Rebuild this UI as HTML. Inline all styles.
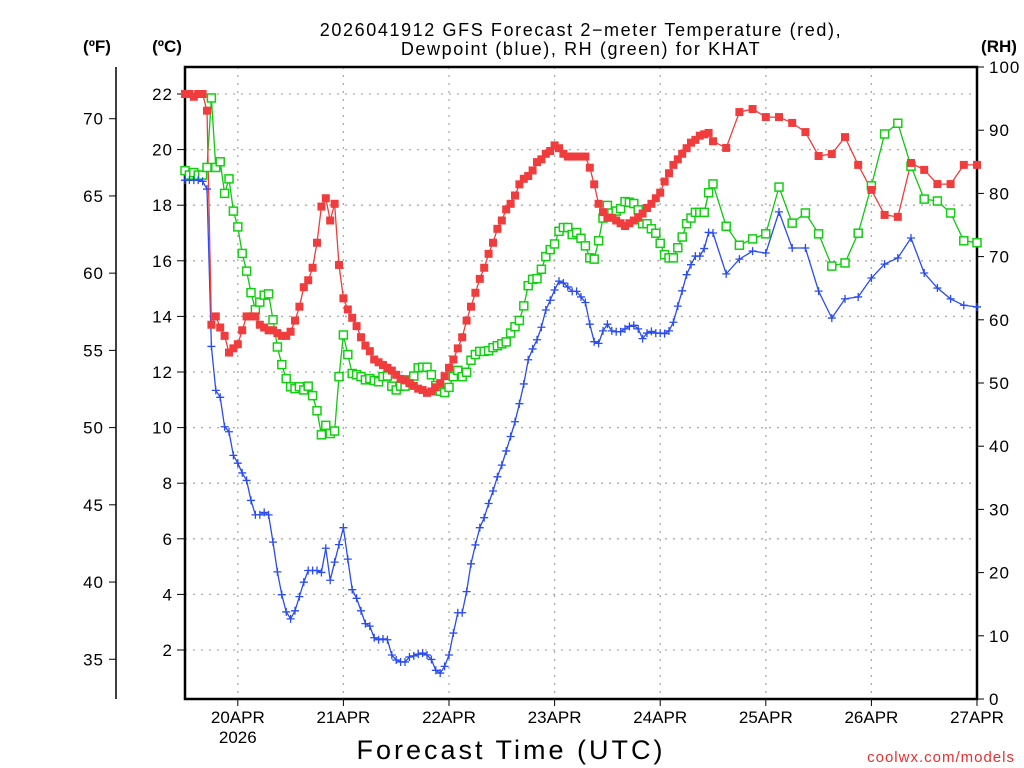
<!DOCTYPE html>
<html><head><meta charset="utf-8"><style>
html,body{margin:0;padding:0;background:#fff;}
svg{display:block;font-family:"Liberation Sans","DejaVu Sans",sans-serif;}
</style></head><body>
<svg id="chart" width="1024" height="768" viewBox="0 0 1024 768" xmlns="http://www.w3.org/2000/svg">
<rect width="1024" height="768" fill="#fff"/>
<text x="581" y="36" font-size="18" text-anchor="middle" fill="#000" letter-spacing="1.6">2026041912 GFS Forecast 2−meter Temperature (red),</text>
<text x="581" y="55" font-size="18" text-anchor="middle" fill="#000" letter-spacing="1.6">Dewpoint (blue), RH (green) for KHAT</text>
<text x="97" y="52" font-size="17" font-weight="bold" text-anchor="middle">(ºF)</text>
<text x="167" y="52" font-size="17" font-weight="bold" text-anchor="middle">(ºC)</text>
<text x="999" y="52" font-size="17" font-weight="bold" text-anchor="middle">(RH)</text>
<g id="grid"></g>
<g id="axes"></g>
<g id="series"></g>
<text x="511" y="759" font-size="27" text-anchor="middle" letter-spacing="3">Forecast Time (UTC)</text>
<text x="1015" y="762" font-size="15" text-anchor="end" fill="#e83030" letter-spacing="1">coolwx.com/models</text>
</svg>
<script>
const hours=[0,1,2,3,4,5,6,7,8,9,10,11,12,13,14,15,16,17,18,19,20,21,22,23,24,25,26,27,28,29,30,31,32,33,34,35,36,37,38,39,40,41,42,43,44,45,46,47,48,49,50,51,52,53,54,55,56,57,58,59,60,61,62,63,64,65,66,67,68,69,70,71,72,73,74,75,76,77,78,79,80,81,82,83,84,85,86,87,88,89,90,91,92,93,94,95,96,97,98,99,100,101,102,103,104,105,106,107,108,109,110,111,112,113,114,115,116,117,118,119,120,123,126,129,132,135,138,141,144,147,150,153,156,159,162,165,168,171,174,177,180];
const tempC=[22.0,22.0,21.9,22.0,22.0,21.4,13.7,14.0,13.6,13.3,
12.7,12.85,13.0,13.5,14.0,14.0,14.0,13.7,13.6,13.5,
13.5,13.4,13.3,13.3,13.45,13.85,14.35,15.05,15.3,15.75,
16.65,17.95,18.25,17.45,18.05,15.85,14.65,14.25,13.95,13.65,
13.25,12.95,12.75,12.45,12.35,12.25,12.15,12.05,11.9,11.75,
11.7,11.6,11.5,11.4,11.35,11.25,11.3,11.45,11.6,11.85,
12.15,12.45,12.85,13.25,13.85,14.35,14.85,15.35,15.75,16.25,
16.65,17.15,17.45,17.85,18.05,18.35,18.75,18.95,19.05,19.25,
19.55,19.65,19.85,19.95,20.15,20.05,19.85,19.75,19.75,19.75,
19.75,19.75,19.35,18.75,18.05,17.75,17.55,17.55,17.45,17.35,
17.25,17.35,17.45,17.55,17.7,17.9,18.05,18.25,18.45,18.85,
19.15,19.45,19.65,19.85,20.05,20.25,20.35,20.5,20.55,20.6,
20.3,20.06,21.35,21.46,21.17,21.17,20.96,20.63,19.77,19.84,20.45,19.45,18.55,17.65,17.58,19.52,19.27,18.76,18.76,19.45,19.45];
const dewC=[18.9,18.9,18.9,18.9,18.86,18.58,12.92,11.34,11.09,10.03,
9.85,9.0,8.72,8.37,8.1,7.38,6.86,6.86,6.95,6.86,
5.88,4.81,3.99,3.37,3.12,3.41,3.92,4.44,4.86,4.86,
4.86,4.79,5.66,4.51,5.16,5.79,6.40,5.27,4.17,3.86,
3.41,2.95,2.86,2.44,2.37,2.40,2.37,1.82,1.64,1.57,
1.57,1.75,1.79,1.85,1.89,1.82,1.66,1.27,1.17,1.41,
1.82,2.61,3.34,3.34,4.1,5.1,5.78,6.4,6.76,7.27,
7.72,8.23,8.65,9.16,9.68,10.21,10.86,11.57,12.44,12.83,
13.16,13.61,14.23,14.58,14.95,15.27,15.2,15.06,14.9,14.9,
14.7,14.5,13.72,13.09,13.03,13.48,13.72,13.48,13.45,13.45,
13.55,13.64,13.68,13.55,13.2,13.4,13.46,13.4,13.4,13.38,
13.48,13.79,14.37,14.92,15.5,15.86,16.17,16.17,16.44,17.02,
17.0,15.53,16.06,16.35,16.28,17.76,16.46,16.46,14.91,13.94,14.63,14.7,15.38,15.88,16.1,16.82,15.56,15.02,14.63,14.4,14.34];
const rhPct=[83.6,82.9,83.3,82.9,82.9,84.1,95.1,84.1,85.0,80.0,
82.3,77.2,74.7,70.5,67.7,64.3,61.6,62.8,63.9,64.1,
60.0,55.7,52.9,50.7,49.4,49.1,49.4,48.9,49.5,48.0,
45.6,41.8,43.3,42.0,42.4,51.0,57.6,54.5,51.5,51.3,
51.0,50.5,50.7,50.4,50.2,51.0,51.1,49.5,48.9,49.5,
49.5,50.5,51.1,52.4,52.5,52.5,51.3,49.6,48.7,48.5,
49.3,51.0,52.0,51.0,51.7,53.6,54.5,55.0,55.0,55.1,
55.6,55.9,56.2,56.5,57.9,58.9,59.9,62.2,65.4,66.4,
66.5,68.0,70.0,71.1,72.0,74.0,74.6,74.6,73.5,73.8,
72.9,71.7,69.8,69.6,72.5,76.1,78.1,76.9,77.2,77.6,
78.7,78.6,78.4,77.4,75.2,75.2,74.4,73.7,72.1,70.3,
69.8,69.8,71.4,73.1,75.2,76.1,77.0,77.0,77.0,80.1,
81.5,74.8,71.8,72.8,73.6,81.0,75.3,76.9,73.6,68.5,69.0,73.7,81.2,89.4,91.1,84.3,79.1,78.8,76.9,72.5,72.2];
const cTicks=[2,4,6,8,10,12,14,16,18,20,22];
const fTicks=[35,40,45,50,55,60,65,70];
const rhTicks=[0,10,20,30,40,50,60,70,80,90,100];
const dayHours=[12,36,60,84,108,132,156,180];
const dayLabels=["20APR","21APR","22APR","23APR","24APR","25APR","26APR","27APR"];

const L=185,R=977,T=67,B=699;
const xS=h=>L+(R-L)*h/180;
const yC=c=>94+(22-c)*27.8;
const yF=f=>yC((f-32)*5/9);
const yRH=r=>B-(B-T)*r/100;
const NS="http://www.w3.org/2000/svg";
function mk(tag,attrs,parent){const e=document.createElementNS(NS,tag);for(const k in attrs)e.setAttribute(k,attrs[k]);parent.appendChild(e);return e;}
const grid=document.getElementById('grid'),axes=document.getElementById('axes'),ser=document.getElementById('series');

cTicks.forEach(c=>{const y=yC(c);
 const g=mk('line',{x1:L,x2:R,y1:y,y2:y,stroke:'#aaa','stroke-width':1.3,'stroke-dasharray':'2 6'},grid);
 
 const t=mk('line',{x1:L-8,x2:L,y1:y,y2:y,stroke:'#000','stroke-width':1},axes);
 
 const tx=mk('text',{x:L-12,y:y+6,'font-size':17,'text-anchor':'end','letter-spacing':1},axes);tx.textContent=c;
 
});
dayHours.forEach((h,i)=>{const x=xS(h);
 if(h<180){const g=mk('line',{x1:x,x2:x,y1:T,y2:B,stroke:'#aaa','stroke-width':1.3,'stroke-dasharray':'2 6'},grid);
 }
 const t=mk('line',{x1:x,x2:x,y1:B,y2:B+7,stroke:'#000','stroke-width':1},axes);
 
 const tx=mk('text',{x:x,y:723,'font-size':17,'text-anchor':'middle'},axes);tx.textContent=dayLabels[i];
 
});
const yr=mk('text',{x:xS(12),y:743,'font-size':17,'text-anchor':'middle'},axes);yr.textContent='2026';


const fl=mk('line',{x1:116,x2:116,y1:T,y2:B,stroke:'#000','stroke-width':1.5},axes);

fTicks.forEach(f=>{const y=yF(f);
 const t=mk('line',{x1:109,x2:116,y1:y,y2:y,stroke:'#000','stroke-width':1},axes);
 
 const tx=mk('text',{x:104,y:y+6,'font-size':17,'text-anchor':'end','letter-spacing':1},axes);tx.textContent=f;
 
});
rhTicks.forEach(r=>{const y=yRH(r);
 const t=mk('line',{x1:R,x2:R+7,y1:y,y2:y,stroke:'#000','stroke-width':1},axes);
 
 const tx=mk('text',{x:R+12,y:y+6,'font-size':17,'text-anchor':'start','letter-spacing':1},axes);tx.textContent=r;
 
});
const fr=mk('rect',{x:L,y:T,width:R-L,height:B-T,fill:'none',stroke:'#000','stroke-width':2.5},axes);


function line(vals,yf,color,name){
 const pts=vals.map((v,i)=>xS(hours[i]).toFixed(1)+','+yf(v).toFixed(1)).join(' ');
 const p=mk('polyline',{points:pts,fill:'none',stroke:color,'stroke-width':1.3},ser);
 
}
line(rhPct,yRH,'#10c810','rh-line');
line(dewC,yC,'#2a4cf0','dewpoint-line');
line(tempC,yC,'#f03c3c','temperature-line');
rhPct.forEach((v,i)=>{const x=xS(hours[i]),y=yRH(v);
 const m=mk('rect',{x:x-4,y:y-4,width:8,height:8,fill:'#fff',stroke:'#10d010','stroke-width':1.5},ser);
 });
dewC.forEach((v,i)=>{const x=xS(hours[i]),y=yC(v);
 const m=mk('path',{d:`M${x-4},${y}H${x+4}M${x},${y-4}V${y+4}`,stroke:'#2a4cf0','stroke-width':1.3,fill:'none'},ser);
 });
tempC.forEach((v,i)=>{const x=xS(hours[i]),y=yC(v);
 const m=mk('rect',{x:x-4,y:y-4,width:8,height:8,fill:'#f03c3c'},ser);
 });
</script>
</body></html>
